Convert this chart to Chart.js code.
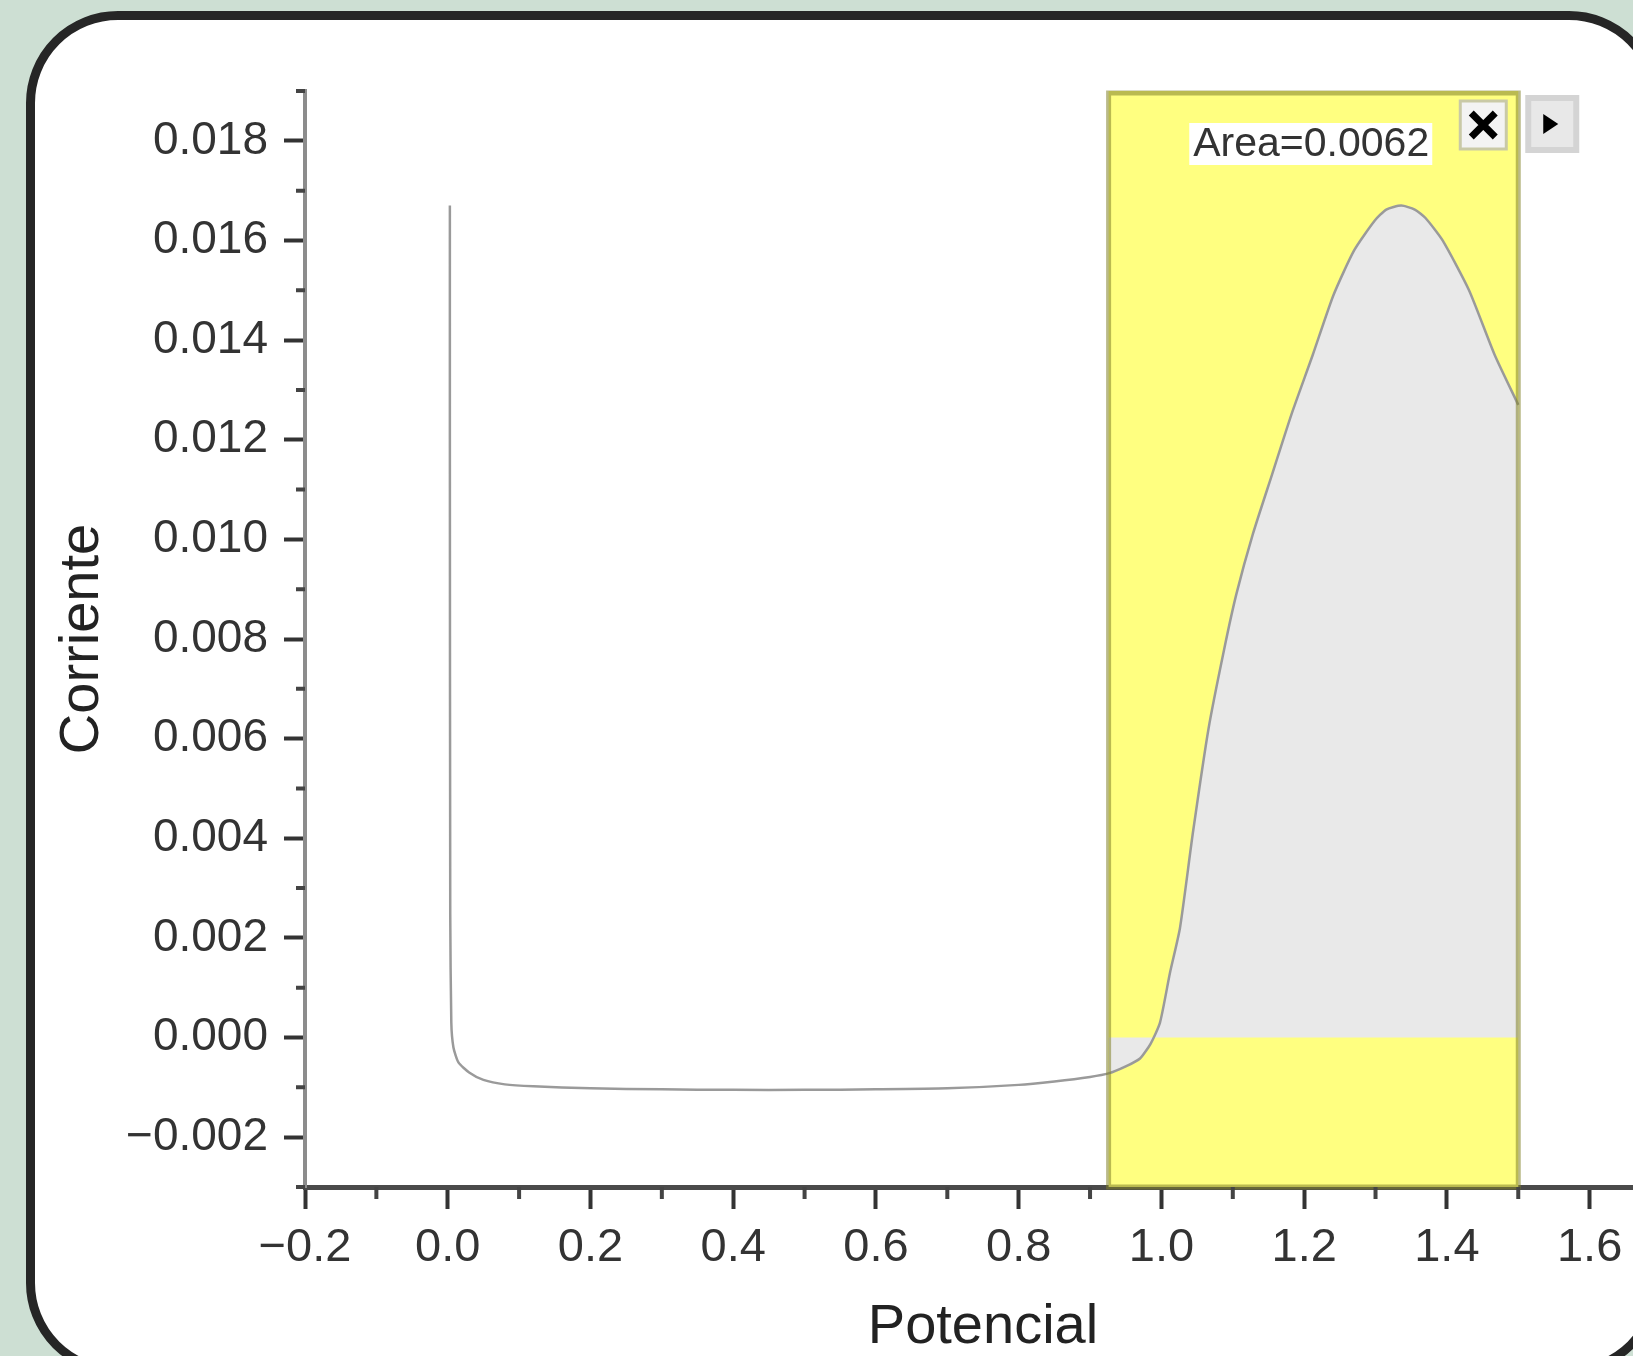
<!DOCTYPE html>
<html>
<head>
<meta charset="utf-8">
<script src="https://cdn.jsdelivr.net/npm/chart.js@4.4.1/dist/chart.umd.min.js"></script>
<style>
html,body{margin:0;padding:0;width:1633px;height:1356px;overflow:hidden;background:#cddfd3;}
#card{position:absolute;left:26px;top:11px;width:1635px;height:1364px;box-sizing:border-box;border:9px solid #262626;border-radius:92px;background:#fff;}
#chart{position:absolute;left:0;top:0;}
</style>
</head>
<body>
<div id="card"></div>
<canvas id="chart" width="1672" height="1356"></canvas>
<script>
// curve
const potencial=[0.003,0.003,0.0035,0.005,0.008,0.015,0.03,0.05,0.08,0.12,0.2,0.3,0.4,0.5,0.6,0.7,0.8,0.85,0.9,0.926,0.95,0.97,0.985,0.998,1.012,1.026,1.044,1.066,1.088,1.105,1.128,1.155,1.182,1.212,1.241,1.27,1.299,1.315,1.336,1.355,1.37,1.394,1.431,1.467,1.5]
const corriente=[0.0167,0.012,0.0025,0.0003,-0.0002,-0.0005,-0.0007,-0.00085,-0.00094,-0.00098,-0.00102,-0.00104,-0.00105,-0.00105,-0.00104,-0.00102,-0.00095,-0.00088,-0.00079,-0.00072,-0.00058,-0.00042,-0.00012,0.0003,0.0013,0.0022,0.0041,0.0062,0.0078,0.0089,0.0101,0.0113,0.0125,0.0137,0.0149,0.0158,0.0164,0.01662,0.0167,0.01662,0.01645,0.016,0.015,0.0137,0.0127]

const areaStart=0.926
const areaEnd=1.5
const areaLabel="Area=0.0062"
const xTitle="Potencial"
const yTitle="Corriente"

const points=potencial.map((x,i)=>({x:x,y:corriente[i]}))
const areaPoints=points.filter(p=>p.x>=areaStart&&p.x<=areaEnd)

function fmt(v,d){
const n=Math.round(v*Math.pow(10,d))
if(n===0) return (0).toFixed(d)
return (n<0?"\u2212":"")+Math.abs(v).toFixed(d)
}

const FONT="'Liberation Sans', Arial, sans-serif"

const regionPlugin={
id:"region",
beforeDatasetsDraw(chart){
const ctx=chart.ctx, a=chart.chartArea, xs=chart.scales.x
const x0=xs.getPixelForValue(areaStart), x1=xs.getPixelForValue(areaEnd)
ctx.save()
ctx.fillStyle="#ffff80"
ctx.fillRect(x0,a.top,x1-x0,a.bottom-a.top)
ctx.restore()
},
afterDatasetsDraw(chart){
const ctx=chart.ctx, a=chart.chartArea, xs=chart.scales.x
const x0=xs.getPixelForValue(areaStart), x1=xs.getPixelForValue(areaEnd)
ctx.save()
ctx.strokeStyle="rgba(130,130,40,0.55)"
ctx.lineWidth=5
ctx.strokeRect(x0,a.top+2,x1-x0,a.bottom-a.top-2)
// label
ctx.fillStyle="#fff"
ctx.fillRect(x1-329,a.top+32,243,42)
ctx.fillStyle="#333"
ctx.font="41px "+FONT
ctx.textBaseline="middle"
ctx.fillText(areaLabel,x1-325,a.top+54)
// close button
let bx=x1-58, by=a.top+10
ctx.fillStyle="#f3f3f3"
ctx.fillRect(bx,by,46,48)
ctx.strokeStyle="#c9c9a6"
ctx.lineWidth=3
ctx.strokeRect(bx,by,46,48)
ctx.strokeStyle="#000"
ctx.lineWidth=7
ctx.beginPath()
ctx.moveTo(bx+11,by+12);ctx.lineTo(bx+35,by+36)
ctx.moveTo(bx+35,by+12);ctx.lineTo(bx+11,by+36)
ctx.stroke()
// arrow button
bx=x1+7; by=a.top+4
ctx.fillStyle="#d4d4d4"
ctx.fillRect(bx,by,54,58)
ctx.fillStyle="#e8e8e8"
ctx.fillRect(bx+6,by+6,42,46)
ctx.fillStyle="#000"
ctx.beginPath()
ctx.moveTo(bx+18,by+19);ctx.lineTo(bx+33,by+29);ctx.lineTo(bx+18,by+39)
ctx.closePath();ctx.fill()
ctx.restore()
}
}

const minorTicks={
id:"minorTicks",
afterDraw(chart){
const ctx=chart.ctx, a=chart.chartArea
ctx.save()
ctx.strokeStyle="#444"
ctx.lineWidth=4
ctx.beginPath()
chart.scales.y.ticks.forEach(t=>{
if(Math.round(t.value*1000)%2!==0){
const y=chart.scales.y.getPixelForValue(t.value)
ctx.moveTo(a.left-9,y);ctx.lineTo(a.left,y)
}
})
chart.scales.x.ticks.forEach(t=>{
if(Math.round(t.value*10)%2!==0){
const x=chart.scales.x.getPixelForValue(t.value)
ctx.moveTo(x,a.bottom);ctx.lineTo(x,a.bottom+12)
}
})
ctx.stroke()
ctx.restore()
}
}

new Chart(document.getElementById("chart"),{
type:"scatter",
data:{
datasets:[
{
data:points,
showLine:true,
borderColor:"#9a9a9a",
borderWidth:2.5,
pointRadius:0,
tension:0.2,
fill:false,
order:0
},
{
data:areaPoints,
showLine:true,
borderWidth:0,
borderColor:"rgba(0,0,0,0)",
backgroundColor:"#e9e9e9",
pointRadius:0,
tension:0.2,
fill:"origin",
order:1
}
]
},
options:{
responsive:false,
animation:false,
devicePixelRatio:1,
layout:{padding:{top:91,left:0,right:0,bottom:0}},
plugins:{legend:{display:false},tooltip:{enabled:false}},
scales:{
x:{
type:"linear",
min:-0.2,
max:1.7,
afterFit(s){s.height=169},
border:{display:true,color:"#4a4a4a",width:5},
grid:{display:true,drawOnChartArea:false,drawTicks:true,tickLength:22,tickWidth:4,
tickColor:c=>Math.round(c.tick.value*10)%2===0?"#333":"rgba(0,0,0,0)"},
ticks:{stepSize:0.1,includeBounds:false,autoSkip:false,maxRotation:0,padding:11,color:"#333",
font:{family:FONT,size:47},
callback:v=>Math.round(v*10)%2===0?fmt(v,1):""},
title:{display:true,text:xTitle,color:"#222",font:{family:FONT,size:56,lineHeight:1},padding:{top:0,bottom:0}}
},
y:{
type:"linear",
min:-0.003,
max:0.019,
afterFit(s){s.width=305},
border:{display:true,color:"#8c8c8c",width:4},
grid:{display:true,drawOnChartArea:false,drawTicks:true,tickLength:21,tickWidth:4,
tickColor:c=>Math.round(c.tick.value*1000)%2===0?"#333":"rgba(0,0,0,0)"},
ticks:{stepSize:0.001,includeBounds:false,autoSkip:false,padding:16,color:"#333",
font:{family:FONT,size:46},
callback:v=>Math.round(v*1000)%2===0?fmt(v,3):""},
title:{display:true,text:yTitle,color:"#222",font:{family:FONT,size:56},padding:{top:49,bottom:0}}
}
}
},
plugins:[regionPlugin,minorTicks]
})
</script>
</body>
</html>
